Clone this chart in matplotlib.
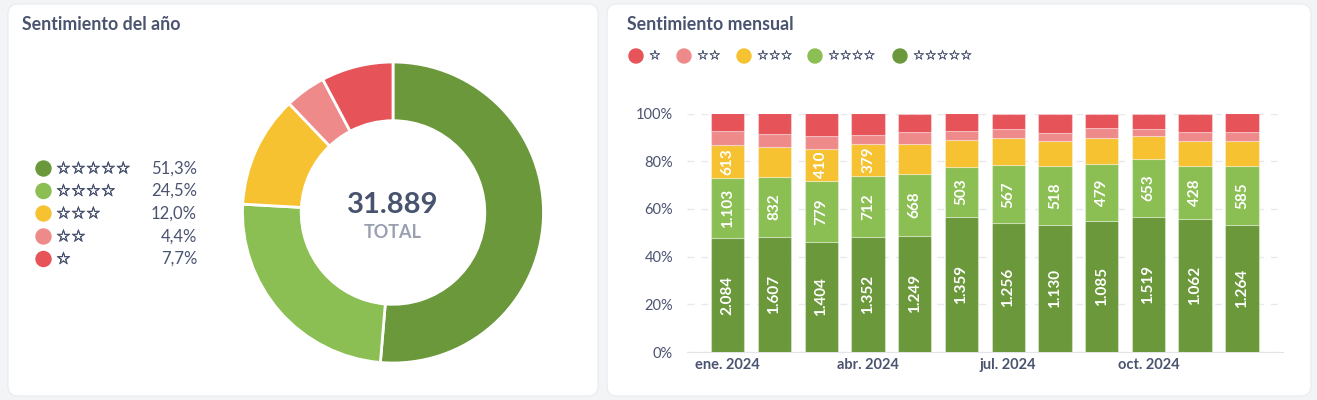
import matplotlib.pyplot as plt
from matplotlib.patches import FancyBboxPatch, Circle
from matplotlib.transforms import IdentityTransform
from matplotlib.ticker import PercentFormatter
import matplotlib.patheffects as pe
import numpy as np

plt.rcParams['font.family'] = ['Lato', 'DejaVu Sans']

# datos
months = ['ene. 2024', 'feb. 2024', 'mar. 2024', 'abr. 2024', 'may. 2024', 'jun. 2024',
          'jul. 2024', 'ago. 2024', 'sept. 2024', 'oct. 2024', 'nov. 2024', 'dic. 2024']
star5 = [2084, 1607, 1404, 1352, 1249, 1359, 1256, 1130, 1085, 1519, 1062, 1264]
star4 = [1103, 832, 779, 712, 668, 503, 567, 518, 479, 653, 428, 585]
star3 = [613, 420, 410, 379, 319, 265, 271, 225, 216, 253, 199, 255]
star2 = [243, 190, 165, 106, 133, 93, 83, 71, 77, 83, 72, 87]
star1 = [327, 280, 287, 249, 196, 175, 152, 170, 123, 172, 150, 182]

series = [star5, star4, star3, star2, star1]
star_labels = ['☆☆☆☆☆', '☆☆☆☆', '☆☆☆', '☆☆', '☆']
colors = ['#6a983a', '#8bbf53', '#f6c231', '#ef8a8a', '#e65359']
text_col = '#4a5470'

W, H = 1317, 400
fig = plt.figure(figsize=(W / 100, H / 100), dpi=100)
fig.patch.set_facecolor('#f3f4f6')

# paneles
for x0, x1 in [(8, 598), (607, 1311)]:
    p = FancyBboxPatch((x0, 4), x1 - x0, 392, boxstyle='round,pad=0,rounding_size=10',
                       facecolor='white', edgecolor='#e9eaee', linewidth=0.8,
                       transform=IdentityTransform(), zorder=-5)
    fig.patches.append(p)

fig.text(22 / W, 1 - 25 / H, 'Sentimiento del año', fontsize=12.8, fontweight='bold',
         color=text_col, va='center', ha='left')
fig.text(627 / W, 1 - 25 / H, 'Sentimiento mensual', fontsize=12.8, fontweight='bold',
         color=text_col, va='center', ha='left')

# donut
totals = [sum(s) for s in series]
grand = sum(totals)
cx, cy, r = 393, 212.5, 150.5
ax_d = fig.add_axes([(cx - 160) / W, (H - cy - 160) / H, 320 / W, 320 / H])
ax_d.pie(totals, colors=colors, startangle=90, counterclock=False, radius=1,
         wedgeprops=dict(width=0.39, edgecolor='white', linewidth=2))
ax_d.set_xlim(-160 / r, 160 / r)
ax_d.set_ylim(-160 / r, 160 / r)
ax_d.set_aspect('equal')
ax_d.axis('off')
ax_d.text(0, 0.05, f"{grand:,}".replace(',', '.'), ha='center', va='center',
          fontsize=21, fontweight='bold', color='#48546e')
ax_d.text(0, -0.13, 'TOTAL', ha='center', va='center', fontsize=13,
          fontweight='bold', color='#9aa0b0')

# capa para leyendas en pixeles
ov = fig.add_axes([0, 0, 1, 1])
ov.set_xlim(0, W)
ov.set_ylim(H, 0)
ov.axis('off')
ov.patch.set_alpha(0)

row_y = [168.5, 191, 213.5, 236.5, 259]
for i in range(5):
    y = row_y[i]
    ov.add_patch(Circle((43.5, y), 7.5, color=colors[i]))
    ov.text(56, y, star_labels[i], fontsize=12, color=text_col, va='center', ha='left',
            family=['DejaVu Sans'],
            path_effects=[pe.withStroke(linewidth=0.5, foreground=text_col)])
    pct = f"{totals[i] / grand * 100:.1f}".replace('.', ',') + '%'
    ov.text(197, y, pct, fontsize=12, color=text_col, va='center', ha='right')

leg_x = [636, 684, 744, 815, 900]
for j, i in enumerate([4, 3, 2, 1, 0]):
    ov.add_patch(Circle((leg_x[j], 56), 7, color=colors[i]))
    ov.text(leg_x[j] + 13, 56, star_labels[i], fontsize=9.5, color=text_col,
            va='center', ha='left', family=['DejaVu Sans'],
            path_effects=[pe.withStroke(linewidth=0.3, foreground=text_col)])

# barras apiladas 100%
ax = fig.add_axes([687 / W, (H - 352) / H, (1283 - 687) / W, (352 - 113.5) / H])
ax.patch.set_alpha(0)
x = np.arange(len(months))
month_tot = np.array([sum(s[k] for s in series) for k in range(len(months))])
bottom = np.zeros(len(months))
for i, s in enumerate(series):
    frac = np.array(s) / month_tot
    ax.bar(x, frac, 0.713, bottom=bottom, color=colors[i], edgecolor=(1, 1, 1, 0.35),
           linewidth=0.8, zorder=3)
    if i < 3:
        for k in range(len(months)):
            if i == 2 and frac[k] < 0.13:
                continue
            ax.text(x[k], bottom[k] + frac[k] / 2, f"{s[k]:,}".replace(',', '.'),
                    rotation=90, ha='center', va='center', color='white',
                    fontsize=11, fontweight='bold', zorder=4)
    bottom += frac

ax.set_xlim(-0.873, 11.88)
ax.set_ylim(0, 1)
ax.set_yticks([0, 0.2, 0.4, 0.6, 0.8, 1.0])
ax.yaxis.set_major_formatter(PercentFormatter(1.0, decimals=0))
ax.set_xticks([0, 3, 6, 9])
ax.set_xticklabels([months[k] for k in [0, 3, 6, 9]], fontweight='bold')
ax.tick_params(length=0, labelsize=10.5, labelcolor=text_col)
ax.tick_params(axis='y', pad=10)
ax.tick_params(axis='x', pad=4)
for sp in ['top', 'right', 'left']:
    ax.spines[sp].set_visible(False)
ax.spines['bottom'].set_color('#e2e4e8')
ax.grid(axis='y', color='#e8e9ec', linestyle=(0, (5, 5)), linewidth=1, zorder=0)
ax.set_axisbelow(True)

fig.savefig('out.png', dpi=100)
